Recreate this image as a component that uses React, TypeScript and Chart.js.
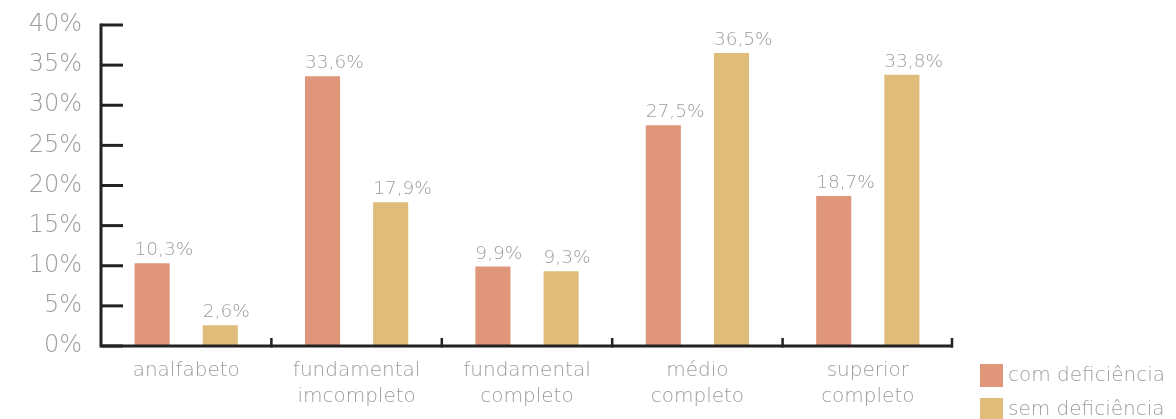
import React, { useEffect, useRef } from 'react';
import { Chart, registerables } from 'chart.js';

Chart.register(...registerables);

const categories: string[][] = [
  ['analfabeto'],
  ['fundamental', 'imcompleto'],
  ['fundamental', 'completo'],
  ['médio', 'completo'],
  ['superior', 'completo'],
];
const comDeficiencia = [10.3, 33.6, 9.9, 27.5, 18.7];
const semDeficiencia = [2.6, 17.9, 9.3, 36.5, 33.8];
const seriesLabels = ['com deficiência', 'sem deficiência'];
const seriesColors = ['#E0967A', '#DFBC7A'];
const yMin = 0;
const yMax = 40;
const yStep = 5;

const FONT = "'DejaVu Sans', sans-serif";
const TEXT = '#9c9c9c';
const AXIS = '#222222';

const fmt = (v: number) => v.toFixed(1).replace('.', ',') + '%';

const decorPlugin = {
  id: 'decor',
  afterDraw(chart: any) {
    const { ctx, chartArea } = chart;
    const yScale = chart.scales.y;
    const xScale = chart.scales.x;
    ctx.save();
    ctx.strokeStyle = AXIS;
    ctx.lineWidth = 3;
    ctx.lineCap = 'butt';
    ctx.beginPath();
    ctx.moveTo(chartArea.left, chartArea.top - 1.5);
    ctx.lineTo(chartArea.left, chartArea.bottom);
    ctx.lineTo(chartArea.right, chartArea.bottom);
    ctx.stroke();
    yScale.ticks.forEach((t: any) => {
      const py = yScale.getPixelForValue(t.value);
      ctx.beginPath();
      ctx.moveTo(chartArea.left, py);
      ctx.lineTo(chartArea.left + 22, py);
      ctx.stroke();
    });
    ctx.lineWidth = 2.5;
    const n = categories.length;
    for (let i = 1; i <= n; i++) {
      const px = (xScale.getPixelForValue(i - 1) + xScale.getPixelForValue(i)) / 2;
      const bx = i === n ? chartArea.right - 1 : px;
      ctx.beginPath();
      ctx.moveTo(bx, chartArea.bottom + 1.5);
      ctx.lineTo(bx, chartArea.bottom - 8);
      ctx.stroke();
    }
    ctx.fillStyle = TEXT;
    ctx.font = `200 18.5px ${FONT}`;
    ctx.textAlign = 'left';
    ctx.textBaseline = 'alphabetic';
    chart.data.datasets.forEach((ds: any, di: number) => {
      const meta = chart.getDatasetMeta(di);
      meta.data.forEach((bar: any, i: number) => {
        const left = bar.x - bar.width / 2;
        ctx.fillText(fmt(ds.data[i]), left, bar.y - 8);
      });
    });
    ctx.font = `200 20px ${FONT}`;
    ctx.textBaseline = 'middle';
    seriesLabels.forEach((lab, i) => {
      const bx = chartArea.right + 27;
      const by = chartArea.bottom + 18 + i * 34;
      ctx.fillStyle = seriesColors[i];
      ctx.fillRect(bx, by, 23, 23);
      ctx.fillStyle = TEXT;
      ctx.fillText(lab, bx + 28, by + 12);
    });
    ctx.restore();
  },
};

export default function App() {
  const ref = useRef<HTMLCanvasElement | null>(null);
  useEffect(() => {
    if (!ref.current) return;
    const chart = new Chart(ref.current, {
      type: 'bar',
      data: {
        labels: categories,
        datasets: [
          {
            label: seriesLabels[0],
            data: comDeficiencia,
            backgroundColor: seriesColors[0],
            barPercentage: 0.515,
            categoryPercentage: 0.8,
          },
          {
            label: seriesLabels[1],
            data: semDeficiencia,
            backgroundColor: seriesColors[1],
            barPercentage: 0.515,
            categoryPercentage: 0.8,
          },
        ],
      },
      plugins: [decorPlugin],
      options: {
        animation: false,
        responsive: false,
        maintainAspectRatio: false,
        layout: { padding: { top: 0, right: 215, bottom: 0, left: 0 } },
        plugins: {
          legend: { display: false },
          tooltip: { enabled: false },
        },
        scales: {
          x: {
            grid: { display: false, drawTicks: false },
            border: { display: false },
            ticks: {
              color: TEXT,
              font: { family: FONT, size: 20, weight: '200', lineHeight: 1.3 },
              padding: 12,
              maxRotation: 0,
              autoSkip: false,
            },
            afterFit: (s: any) => {
              s.height = 73;
            },
          },
          y: {
            min: yMin,
            max: yMax,
            grid: { display: false, drawTicks: false },
            border: { display: false },
            ticks: {
              stepSize: yStep,
              color: TEXT,
              font: { family: FONT, size: 24, weight: '200' },
              padding: 19,
              callback: (v: any) => `${v}%`,
            },
            afterFit: (s: any) => {
              s.width = 93;
              s.paddingTop = 17;
              s.paddingBottom = 0;
            },
          },
        },
      },
    });
    return () => chart.destroy();
  }, []);
  return <canvas ref={ref} width={1160} height={411} style={{ display: 'block' }} />;
}
